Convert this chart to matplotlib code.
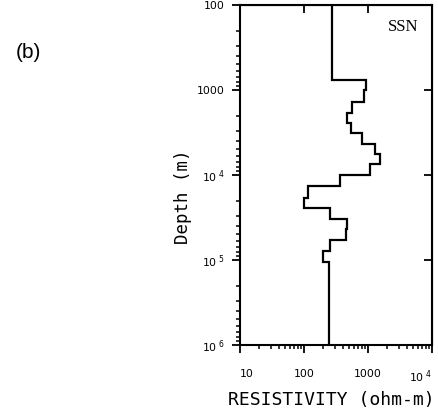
import matplotlib
matplotlib.use("Agg")
import matplotlib.pyplot as plt
import numpy as np
from matplotlib.ticker import FixedLocator, NullFormatter, NullLocator

# Layer boundaries (depth, m) and resistivity of each layer (ohm-m)
depth_edges = [100, 763, 1000, 1373, 1880, 2425, 3180, 4320, 5660, 7520, 10000,
               13460, 18500, 24250, 32950, 43550, 58200, 77850, 104700, 1e6]
resistivity = [271, 920, 876, 556, 465, 542, 797, 1286, 1540, 1075, 365,
               114, 100, 255, 475, 448, 255, 196, 246]

x_ticks = [10, 100, 1000, 1e4]
x_ticklabels = ['10', '100', '1000', r'$10^{\ 4}$']
y_ticks = [100, 1000, 1e4, 1e5, 1e6]
y_ticklabels = ['100', '1000', r'$10^{\ 4}$', r'$10^{\ 5}$', r'$10^{\ 6}$']

fig = plt.figure(figsize=(4.38, 4.17), dpi=100)
ax = fig.add_axes([240/438, 1-345/417, 192/438, 340/417])

ax.stairs(resistivity, depth_edges, orientation='horizontal', baseline=None,
          color='black', linewidth=1.6)

ax.set_xscale('log')
ax.set_yscale('log')
ax.set_xlim(10, 1e4)
ax.set_ylim(1e6, 100)

for s in ax.spines.values():
    s.set_linewidth(1.5)

ax.xaxis.set_major_locator(FixedLocator(x_ticks))
ax.set_xticklabels(x_ticklabels)
ax.yaxis.set_major_locator(FixedLocator(y_ticks))
ax.set_yticklabels(y_ticklabels)
minor = [m * 10**e for e in range(1, 6) for m in range(2, 10)]
ax.xaxis.set_minor_locator(FixedLocator([v for v in minor if v < 1e4]))
ax.yaxis.set_minor_locator(FixedLocator([v for v in minor if 100 < v < 1e6]))
ax.xaxis.set_minor_formatter(NullFormatter())
ax.yaxis.set_minor_formatter(NullFormatter())

ax.tick_params(axis='x', which='major', direction='out', length=6, width=1.3,
               labelsize=7.8, pad=11, top=False)
ax.tick_params(axis='x', which='minor', direction='out', length=3, width=1.1, top=False)
ax.tick_params(axis='y', which='major', direction='out', length=6, width=1.3,
               labelsize=7.8, pad=5, right=False)
ax.tick_params(axis='y', which='minor', direction='out', length=3, width=1.1, right=False)

xl = ax.get_xticklabels()
xl[0].set_ha('left')
xl[-1].set_ha('right')

# inward major ticks on top and right
secx = ax.secondary_xaxis('top')
secx.xaxis.set_major_locator(FixedLocator(x_ticks))
secx.xaxis.set_minor_locator(NullLocator())
secx.tick_params(direction='in', length=6, width=1.3, labeltop=False)
secy = ax.secondary_yaxis('right')
secy.yaxis.set_major_locator(FixedLocator(y_ticks))
secy.yaxis.set_minor_locator(NullLocator())
secy.tick_params(direction='in', length=6, width=1.3, labelright=False)

ax.set_xlabel('RESISTIVITY (ohm-m)', family='DejaVu Sans Mono', fontsize=13)
ax.xaxis.set_label_coords(0.474, -0.135)
ax.set_ylabel('Depth (m)', family='DejaVu Sans Mono', fontsize=12.5)
ax.yaxis.set_label_coords(-0.25, 0.435)

ax.text(0.93, 0.935, 'SSN', transform=ax.transAxes, ha='right', va='center',
        family='Liberation Serif', fontsize=12)
fig.text(28/438, 1-52/417, '(b)', ha='center', va='center',
         family='Liberation Sans', fontsize=15)

fig.savefig('out.png', dpi=100)
